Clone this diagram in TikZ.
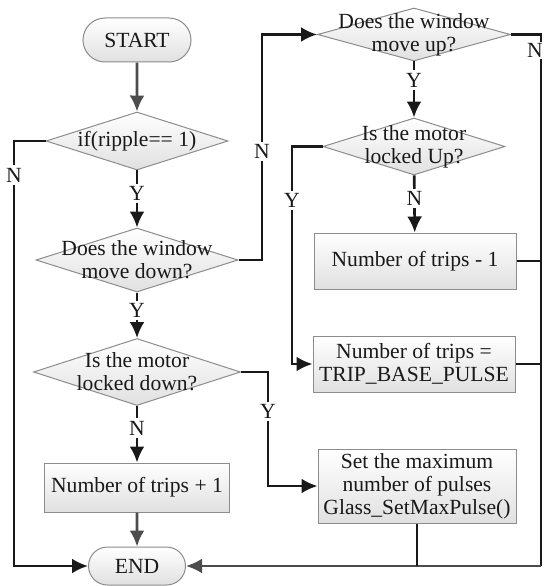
\documentclass[tikz,border=0pt]{standalone}
\usepackage{fontspec}
\setmainfont{Liberation Serif}
\usetikzlibrary{shapes.geometric,shapes.misc,arrows.meta}
\begin{document}
\begin{tikzpicture}[x=1pt,y=-1pt,
  every node/.style={font=\fontsize{21.6}{23}\selectfont, text=black!90},
  txt/.style={align=center, inner sep=0pt},
  dia/.style={diamond, draw=black!45, line width=1pt, top color=white, bottom color=black!12, inner sep=0pt},
  proc/.style={rectangle, draw=black!45, line width=1pt, top color=white, bottom color=black!12, inner sep=0pt, align=center},
  term/.style={rounded rectangle, draw=black!45, line width=1pt, top color=white, bottom color=black!12, inner sep=0pt},
  conn/.style={line width=2.7pt, draw=black!90},
  arr/.style={conn, -{Latex[length=16pt,width=15pt]}},
  garr/.style={arr, draw=black!70},
  lab/.style={fill=white, inner sep=2.5pt, text=black!90}
]
\useasboundingbox (0,0) rectangle (546,586);

% main column
\node[term, minimum width=108pt, minimum height=44pt] (start) at (137,40) {START};
\node[dia, minimum width=182pt, minimum height=58pt] (d1) at (137,141) {};
\node[txt] (d1t) at (d1) {if(ripple== 1)};
\node[dia, minimum width=202pt, minimum height=64pt] (d2) at (137,260) {};
\node[txt] (d2t) at (d2) {Does the window\\move down?};
\node[dia, minimum width=207pt, minimum height=67pt] (d4) at (137,372) {};
\node[txt] (d4t) at (d4) {Is the motor\\locked down?};
\node[proc, minimum width=185pt, minimum height=49pt] (p1) at (137,487.5) {Number of trips + 1};
\node[term, minimum width=97pt, minimum height=38pt] (end) at (137,566) {END};

% right column
\node[dia, minimum width=193pt, minimum height=53pt] (d3) at (414,34.5) {};
\node[txt] (d3t) at (d3) {Does the window\\move up?};
\node[dia, minimum width=182pt, minimum height=57pt] (d5) at (414,146.5) {};
\node[txt] (d5t) at (d5) {Is the motor\\locked Up?};
\node[proc, minimum width=202pt, minimum height=56pt] (m) at (415,261) {Number of trips - 1};
\node[proc, minimum width=202pt, minimum height=56pt] (t) at (414,364) {Number of trips =\\TRIP\_BASE\_PULSE};
\node[proc, minimum width=198pt, minimum height=74pt] (s) at (417,486) {Set the maximum\\number of pulses\\Glass\_SetMaxPulse()};

\coordinate (xl) at (14,0);
\coordinate (xn) at (262,0);
\coordinate (xy) at (268,0);
\coordinate (xr) at (541,0);
\coordinate (xq) at (292,0);

% connectors main column
\draw[garr] (start) -- (d1);
\draw[arr] (d1) -- node[lab,pos=0.4]{Y} (d2);
\draw[arr] (d2) -- node[lab,pos=0.4]{Y} (d4);
\draw[arr] (d4) -- node[lab,pos=0.39]{N} (p1);
\draw[garr] (p1) -- (end);

% left N loop
\draw[arr] (d1.west) -- (d1.west -| xl) -- node[lab,pos=0.08]{N} (xl |- end.west) -- (end.west);

% D2 N to D3
\draw[arr] (d2.east) -- (d2.east -| xn) -- node[lab,pos=0.48]{N} (xn |- d3.west) -- (d3.west);

% D4 Y to S
\draw[arr] (d4.east) -- (d4.east -| xy) -- node[lab,pos=0.35]{Y} (xy |- s.west) -- (s.west);

% right column
\draw[arr] (d3) -- node[lab,pos=0.33]{Y} (d5);
\draw[arr] (d5) -- node[lab,pos=0.4]{N} (m);
\draw[arr] (d5.west) -- (d5.west -| xq) -- node[lab,pos=0.25]{Y} (xq |- t.west) -- (t.west);

% D3 N back to END
\draw[conn] (d3.east) -- (d3.east -| xr) -- node[lab,pos=0.03,inner sep=1.5pt,xshift=-6pt]{N} (xr |- end.east);
\draw[garr] (xr |- end.east) -- (end.east);
\draw[conn] (m.east) -- (m.east -| xr);
\draw[conn] (t.east) -- (t.east -| xr);
\draw[conn] (s.south) -- (s.south |- end.east);
\end{tikzpicture}
\end{document}
